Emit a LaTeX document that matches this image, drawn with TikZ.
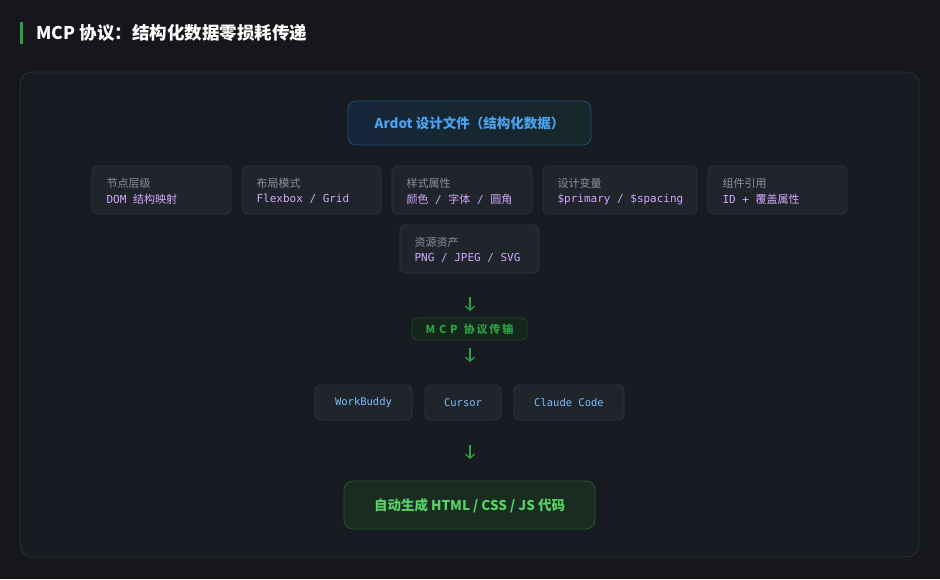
\documentclass[tikz,border=0pt]{standalone}
\usepackage{fontspec}
\setmainfont{Noto Sans CJK SC}
\newfontfamily\cjk{Noto Sans CJK SC}
\setmonofont{DejaVu Sans Mono}
\usetikzlibrary{arrows.meta}
\definecolor{pagebg}{HTML}{15171C}
\definecolor{panelbg}{HTML}{181B21}
\definecolor{panelbd}{HTML}{2C3038}
\definecolor{cardbg}{HTML}{20242B}
\definecolor{cardbd}{HTML}{30353E}
\definecolor{lbl}{HTML}{8B929B}
\definecolor{val}{HTML}{D2A8FF}
\definecolor{blu}{HTML}{4AA3F0}
\definecolor{toolc}{HTML}{79C0FF}
\definecolor{grn}{HTML}{2EA043}
\definecolor{grnt}{HTML}{56D364}
\definecolor{ardbd}{HTML}{1F4F7A}
\definecolor{ardl}{HTML}{16263A}
\definecolor{ardr}{HTML}{17282A}
\definecolor{mcpbd}{HTML}{1E4A2B}
\definecolor{mcpbg}{HTML}{15261C}
\definecolor{outbd}{HTML}{25592F}
\definecolor{outbg}{HTML}{1A2B22}
\begin{document}
\begin{tikzpicture}[x=1pt,y=-1pt,
  card/.style={draw=cardbd,fill=cardbg,rounded corners=6pt,line width=0.8pt},
  lab/.style={anchor=west,text=lbl,font=\cjk\fontsize{11}{13}\selectfont},
  vl/.style={anchor=west,text=val,font=\fontsize{11}{13}\selectfont},
  tool/.style={text=toolc,font=\ttfamily\fontsize{10.5}{13}\selectfont},
  arr/.style={draw=grn,line width=1.3pt,-{Straight Barb[length=4pt,width=9pt]}}]
\fill[pagebg] (0,0) rectangle (940,579);
\useasboundingbox (0,0) rectangle (940,579);
\fill[grn] (20,22) rectangle (23,44);
\node[anchor=west,text=white,font=\bfseries\fontsize{17.5}{20}\selectfont] (title) at (33,33) {MCP 协议：结构化数据零损耗传递};
\draw[panelbd,fill=panelbg,rounded corners=12pt,line width=0.8pt] (20,72) rectangle (919,557);
% top
\draw[draw=ardbd,left color=ardl,right color=ardr,rounded corners=8pt,line width=0.8pt] (348,101) rectangle (591,145);
\node[text=blu,font=\bfseries\fontsize{13.5}{16}\selectfont] (ardot) at (469.5,123) {Ardot 设计文件（结构化数据）};
% cards
\foreach \a/\b/\y/\l/\v [count=\i] in {
 92/231/166/节点层级/{\ttfamily DOM\ }结构映射,
 242/381/166/布局模式/{\ttfamily Flexbox / Grid},
 392/532/166/样式属性/颜色{\ttfamily\ /\ }字体{\ttfamily\ /\ }圆角,
 543/697/166/设计变量/{\ttfamily \$primary / \$spacing},
 708/847/166/组件引用/{\ttfamily ID +\ }覆盖属性,
 400/539/225/资源资产/{\ttfamily PNG / JPEG / SVG}}{
 \draw[card] (\a,\y) rectangle (\b,\y+48);
 \node[lab] (l\i) at (\a+11,\y+17) {\l};
 \node[vl] (v\i) at (\a+11,\y+33) {\v};
}
% arrows
\coordinate (a1s) at (470,297); \coordinate (a1e) at (470,311);
\draw[arr] (a1s) -- (a1e);
\draw[draw=mcpbd,fill=mcpbg,rounded corners=5pt,line width=0.8pt] (412,318) rectangle (527,340);
\node[text=grn,font=\bfseries\fontsize{11}{13}\selectfont] (mcp) at (469.5,329) {M\,\,C\,\,P\,\, 协\,议\,传\,输};
\coordinate (a2s) at (470,348); \coordinate (a2e) at (470,362);
\draw[arr] (a2s) -- (a2e);
\draw[card] (315,385) rectangle (412,420); \node[tool] (t1) at (363.5,403) {WorkBuddy};
\draw[card] (425,385) rectangle (501,420); \node[tool] (t2) at (463,403) {Cursor};
\draw[card] (514,385) rectangle (624,420); \node[tool] (t3) at (569,403) {Claude Code};
\coordinate (a3s) at (470,445); \coordinate (a3e) at (470,459);
\draw[arr] (a3s) -- (a3e);
\draw[draw=outbd,fill=outbg,rounded corners=9pt,line width=0.8pt] (344,481) rectangle (595,529);
\node[text=grnt,font=\bfseries\fontsize{13.5}{16}\selectfont] (out) at (469.5,506) {自动生成 HTML / CSS / JS 代码};
\end{tikzpicture}
\end{document}
